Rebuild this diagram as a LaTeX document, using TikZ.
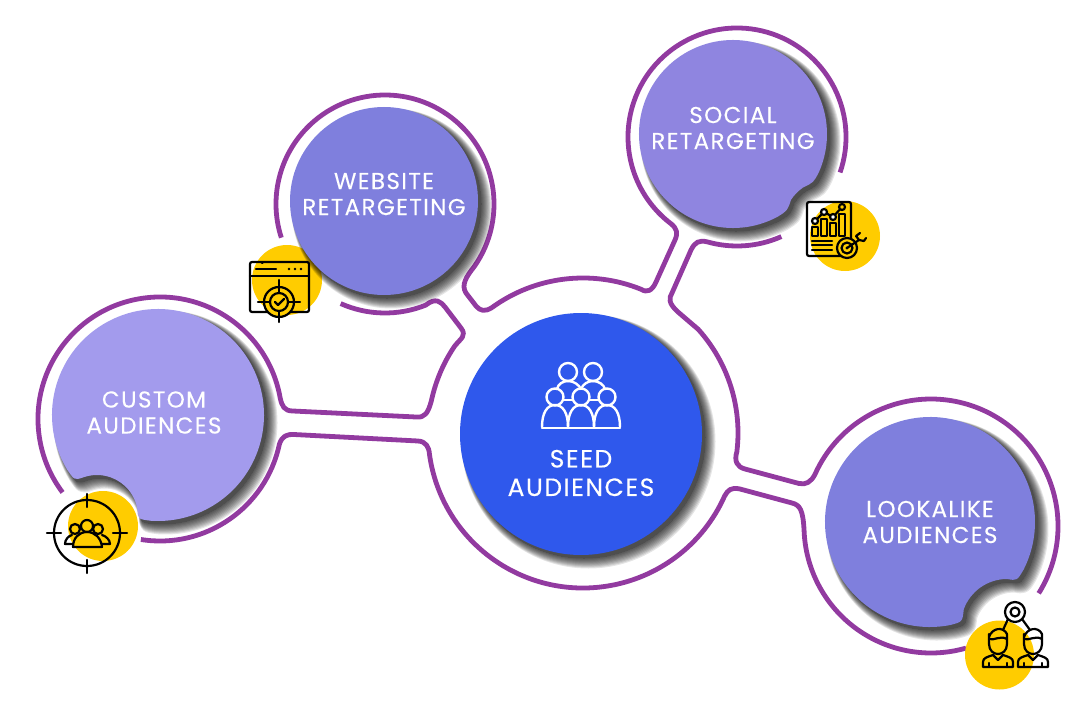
\documentclass[tikz,border=0pt]{standalone}
\usepackage{fontspec}
\setmainfont{Poppins}[LetterSpace=6, FakeBold=0.2]
\definecolor{ringpurple}{HTML}{923AA0}
\definecolor{seedblue}{HTML}{2F58EC}
\definecolor{websitedisc}{HTML}{7F7FDD}
\definecolor{socialdisc}{HTML}{8F85E0}
\definecolor{customdisc}{HTML}{A39BED}
\definecolor{badgeyellow}{HTML}{FFCC00}
\tikzset{
  ring/.style={draw=ringpurple, line width=4.8pt, line cap=butt, line join=round},
  disclabel/.style={text=white, align=center, font=\fontsize{23}{26}\selectfont},
  seedlabel/.style={text=white, align=center, font=\fontsize{25}{28.5}\selectfont},
  iconline/.style={draw=black, line width=2.2pt, line cap=round, line join=round},
  seedline/.style={draw=white, line width=2.4pt, line cap=round, line join=round},
}
% disc centre, radius, start, end, notch centre, radius, start, end
\newcommand{\notchshape}[8]{
  ([shift={(#1)}]#3+7:#2) arc[start angle=#3+7, end angle=#4-7, radius=#2]
  .. controls ([shift={(#1)}]#4:#2) .. ([shift={(#5)}]#7-14:#6)
  arc[start angle=#7-14, end angle=#8+14, radius=#6]
  .. controls ([shift={(#1)}]#3:#2) .. cycle}
\newcommand{\softshadow}[1]{
  \foreach \s in {0,...,10} {
    \begin{scope}[transparency group, opacity=.1]
      \path (0,0) (1080,706);
      \filldraw[black, line width={\s*1.2pt}, line join=round, shift={({3+.45*\s},{3+.45*\s})}] #1;
    \end{scope}
  }}
\newcommand{\personicon}[2]{
  \begin{scope}[shift={(#1,#2)}]
    \draw[iconline] (-9,-8) -- (-9,2) .. controls (-9,9) and (-4,12) .. (0,12) .. controls (4,12) and (9,9) .. (9,2) -- (9,-8);
    \draw[iconline] (-9,-5) .. controls (-6,-14) and (5,-16) .. (9,-8);
    \draw[iconline] (-9,-3) .. controls (-4,-1) and (2,-7) .. (9,-3);
    \draw[iconline] (-15,25) -- (-15,20) .. controls (-15,16) and (-11,15) .. (-5,13) -- (0,18) -- (5,13) .. controls (11,15) and (15,16) .. (15,20) -- (15,25) -- cycle;
    \draw[iconline] (-9,25) -- (-9,21) (9,25) -- (9,21);
  \end{scope}}
\newcommand{\crowdbody}[2]{
  \draw[seedline] (#1-13,#2) .. controls (#1-13,#2-14) and (#1-8,#2-22) .. (#1,#2-22) .. controls (#1+8,#2-22) and (#1+13,#2-14) .. (#1+13,#2);}
\begin{document}
\begin{tikzpicture}[x=1pt, y=-1pt]
  \useasboundingbox (0,0) rectangle (1080,706);

  \fill[badgeyellow] (287,280) circle (35);

  % outline
  \path[ring] ([shift={(385,204)}]114:109) arc[start angle=114, end angle=68, radius=109]
    .. controls (436,297) and (441,302) .. (445,307) -- (461,328)
    .. controls (467,336) and (461,338) .. ([shift={(583,433)}]214:155)
    arc[start angle=214, end angle=192, radius=155]
    .. controls (428,413) and (425,418) .. (416,417) -- (293,411)
    .. controls (284,411) and (282,406) .. ([shift={(160,419)}]350:122)
    arc[start angle=350, end angle=143, radius=122];
  \path[ring] ([shift={(160,419)}]99:122) arc[start angle=99, end angle=12, radius=122]
    .. controls (282,436) and (287,434) .. (294,434.5) -- (418,441)
    .. controls (426,441.5) and (429,447) .. ([shift={(583,433)}]172:155)
    arc[start angle=172, end angle=24, radius=155]
    .. controls (728,490) and (731,487) .. (740,489) -- (792,503)
    .. controls (800,505) and (803,510) .. ([shift={(931,526)}]178:127)
    arc[start angle=178, end angle=74, radius=127];
  \path[ring] ([shift={(931,526)}]32:127) arc[start angle=32, end angle=-156, radius=127]
    .. controls (811,482) and (806,485) .. (799,483.5) -- (745,469)
    .. controls (737,467) and (734,461) .. ([shift={(583,433)}]7:155)
    arc[start angle=7, end angle=-42, radius=155]
    -- (678,312) .. controls (668,303) and (669,298) .. (672,293) -- (691,250)
    .. controls (695,242) and (699,240) .. ([shift={(737,137)}]106:109)
    arc[start angle=106, end angle=66, radius=109];
  \path[ring] ([shift={(737,137)}]19:109) arc[start angle=19, end angle=-233, radius=109]
    .. controls (677,229) and (678,233) .. (675,240) -- (656,282)
    .. controls (652,291) and (647,293) .. ([shift={(583,433)}]-68:155)
    arc[start angle=-68, end angle=-126, radius=155]
    .. controls (485,312) and (480,311) .. (476,306) -- (466,293)
    .. controls (461,285) and (466,277) .. ([shift={(385,204)}]35:109)
    arc[start angle=35, end angle=-198, radius=109];

  % shadows and discs
  \softshadow{(384,201) circle (94)}
  \softshadow{\notchshape{733,134}{94}{54.6}{391}{830,226}{47}{249}{200}}
  \softshadow{\notchshape{158,415}{106}{142}{461}{97,516}{41}{4}{-124}}
  \softshadow{\notchshape{930,522}{105}{72}{394}{1007,625}{46}{284}{186}}
  \softshadow{(581,434) circle (121)}

  \fill[websitedisc] (384,201) circle (94);
  \fill[socialdisc] \notchshape{733,134}{94}{54.6}{391}{830,226}{47}{249}{200};
  \fill[customdisc] \notchshape{158,415}{106}{142}{461}{97,516}{41}{4}{-124};
  \fill[websitedisc] \notchshape{930,522}{105}{72}{394}{1007,625}{46}{284}{186};
  \fill[seedblue] (581,434) circle (121);

  \fill[badgeyellow] (845,236) circle (35);
  \fill[badgeyellow] (103,526) circle (35);
  \fill[badgeyellow] (999.5,655) circle (34.5);

  % labels
  \node[disclabel] (website) at (384,194) {WEBSITE\\RETARGETING};
  \node[disclabel] (social) at (733,128) {SOCIAL\\RETARGETING};
  \node[disclabel] (custom) at (154,412.5) {CUSTOM\\AUDIENCES};
  \node[disclabel] (lookalike) at (930,522) {LOOKALIKE\\AUDIENCES};
  \node[seedlabel] (seed) at (581,473) {SEED\\AUDIENCES};

  % seed icon
  \draw[seedline] (568,372) circle (9) (593,372) circle (9);
  \draw[seedline] (555,397) circle (8.5) (581,397) circle (8.5) (607,397) circle (8.5);
  \draw[seedline] (557,389) .. controls (558,384) and (563,381) .. (568,381) .. controls (574,381) and (579,385) .. (581,389);
  \draw[seedline] (581,389) .. controls (583,384) and (588,381) .. (593,381) .. controls (599,381) and (604,385) .. (605,389);
  \draw[seedline] (563,400) -- (573,400) (589,400) -- (599,400);
  \crowdbody{555}{427} \crowdbody{581}{427} \crowdbody{607}{427}
  \draw[seedline] (542,428) -- (620,428);

  % website icon
  \draw[iconline, rounded corners=2pt] (250,262) rectangle (309,312);
  \draw[iconline] (250,276) -- (309,276);
  \draw[iconline] (256,269) -- (276,269) (262,263) -- (262.5,263);
  \foreach \x in {289,295,301} \fill (\x,269) circle (1.3);
  \fill[badgeyellow] (279,302) circle (15);
  \draw[iconline] (279,302) circle (15) (279,302) circle (9);
  \draw[iconline] (279,280) -- (279,292) (279,312) -- (279,322) (258,302) -- (269,302) (289,302) -- (300,302);
  \draw[iconline] (275,302) -- (278,305) -- (284,299);

  % social icon
  \draw[iconline, rounded corners=2pt] (807,202) rectangle (851,256);
  \foreach \x/\y in {812/227, 821/219, 830/223, 839/214}
    \draw[iconline] (\x,\y) rectangle (\x+6,236);
  \draw[iconline] (815,221) -- (824,212) -- (833,217) -- (842,207);
  \fill[white] (815,221) circle (3) (824,212) circle (3) (833,217) circle (3);
  \fill[badgeyellow] (842,207) circle (3);
  \draw[iconline] (815,221) circle (3) (824,212) circle (3) (833,217) circle (3) (842,207) circle (3);
  \draw[iconline] (812,241) -- (832,241) (812,245) -- (832,245) (812,250) -- (832,250);
  \fill[badgeyellow] (847,248) circle (10);
  \draw[iconline] (847,248) circle (10) (847,248) circle (5.5);
  \fill (847,248) circle (1.6);
  \draw[iconline] (847,248) -- (859,240) (856,236) -- (859,240) -- (864,241) (860,233) -- (856,236) (866,238) -- (864,241);

  % custom icon
  \draw[iconline] (87,533) circle (33);
  \draw[iconline] (87,494) -- (87,507) (87,560) -- (87,573) (47,533) -- (61,533) (113,533) -- (127,533);
  \draw[iconline] (87,526) circle (6) (75,529) circle (5) (98,529) circle (5);
  \draw[iconline] (73,547) .. controls (73,538) and (79,532) .. (87,532) .. controls (95,532) and (101,538) .. (102,547) -- cycle;
  \draw[iconline] (72,535) .. controls (68,536) and (65,540) .. (65,544) -- (73,544);
  \draw[iconline] (102,535) .. controls (106,536) and (110,540) .. (110,544) -- (102,544);

  % lookalike icon
  \draw[iconline] (1015,612) circle (10) (1015,612) circle (4.5);
  \draw[iconline] (1008,619) -- (1003,630) (1022,619) -- (1030,630);
  \personicon{998}{642}
  \personicon{1033}{642}
\end{tikzpicture}
\end{document}
